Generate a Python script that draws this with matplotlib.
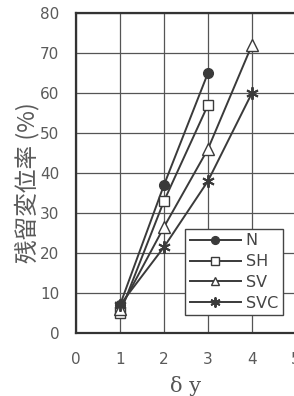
import matplotlib
matplotlib.use("Agg")
import matplotlib.pyplot as plt

x_N = [1, 2, 3]
y_N = [7, 37, 65]
x_SH = [1, 2, 3]
y_SH = [5, 33, 57]
x_SV = [1, 2, 3, 4]
y_SV = [6, 26.5, 46, 72]
x_SVC = [1, 2, 3, 4]
y_SVC = [7, 21.5, 38, 60]
labels = ["N", "SH", "SV", "SVC"]
xticks = [0, 1, 2, 3, 4, 5]
yticks = [0, 10, 20, 30, 40, 50, 60, 70, 80]

c = "#3a3a3a"
fig = plt.figure(figsize=(2.94, 3.96), dpi=100)
ax = fig.add_axes([0.2585, 0.159, 0.748, 0.808])

ax.plot(x_N, y_N, color=c, lw=1.4, marker="o", ms=7, mfc=c, mec=c, label=labels[0], zorder=3)
ax.plot(x_SH, y_SH, color=c, lw=1.4, marker="s", ms=7, mfc="white", mec=c, label=labels[1], zorder=3)
ax.plot(x_SV, y_SV, color=c, lw=1.4, marker="^", ms=8, mfc="white", mec=c, label=labels[2], zorder=3)
ax.plot(x_SVC, y_SVC, color=c, lw=1.4, marker=(6, 2, 0), ms=9, mfc=c, mec=c, mew=1.4, label=labels[3], zorder=3)

ax.set_xlim(0, 5)
ax.set_ylim(0, 80)
ax.set_xticks(xticks)
ax.set_yticks(yticks)
ax.grid(True, color="#555555", lw=0.9)
ax.tick_params(axis="both", length=0, labelsize=11, labelcolor="#5a5a5a")
ax.tick_params(axis="x", pad=14)
ax.tick_params(axis="y", pad=12)
for s in ax.spines.values():
    s.set_color("#333333")
    s.set_linewidth(1.6)

ax.set_xlabel("δ y", fontsize=15, family="DejaVu Serif", color="#555555", labelpad=6)
ax.set_ylabel("残留変位率 (%)", fontsize=17, family=["Noto Sans CJK JP", "DejaVu Sans"],
              color="#5a5a5a")
ax.yaxis.set_label_coords(-0.165, 0.47)

leg = ax.legend(loc="lower right", bbox_to_anchor=(0.94, 0.055), frameon=True, fancybox=False,
                edgecolor="#444444", fontsize=11.5, handlelength=3.2, labelspacing=0.36,
                borderpad=0.3, handletextpad=0.3, borderaxespad=0, markerscale=0.8)
leg.get_frame().set_linewidth(1.0)
leg.get_frame().set_alpha(1)
for t in leg.get_texts():
    t.set_color("#444444")

fig.savefig("out.png", dpi=100)
